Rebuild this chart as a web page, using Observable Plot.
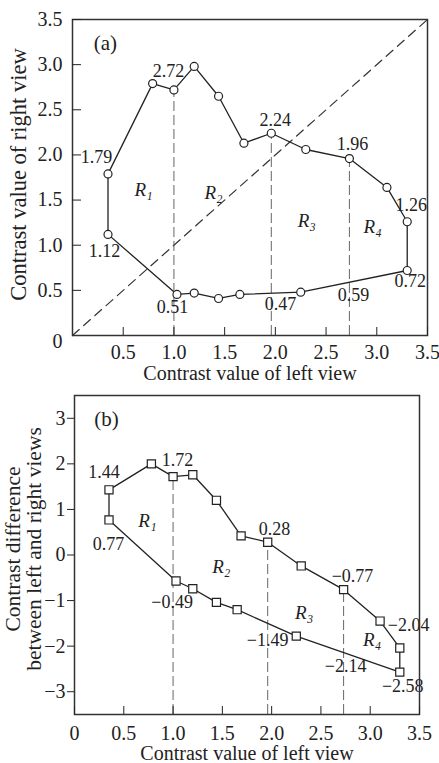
<!DOCTYPE html>
<html><head><meta charset="utf-8">
<script src="https://cdn.jsdelivr.net/npm/d3@7"></script>
<script src="https://cdn.jsdelivr.net/npm/@observablehq/plot@0.6"></script>
<style>
body{margin:0;background:#fff;}
#chart{width:439px;height:763px;overflow:hidden;position:relative;}
#chart svg{display:block;overflow:visible;}
</style></head><body><div id="chart"></div>
<script>
// ---------- Panel (a): contrast of right view vs left view ----------
const aUpperX = [0.35, 0.79, 1.00, 1.20, 1.44, 1.69, 1.96, 2.30, 2.73, 3.10, 3.30];
const aUpperY = [1.79, 2.79, 2.72, 2.98, 2.65, 2.13, 2.24, 2.06, 1.96, 1.64, 1.26];
const aLowerX = [3.30, 2.25, 1.65, 1.44, 1.20, 1.03, 0.35];
const aLowerY = [0.72, 0.48, 0.455, 0.41, 0.47, 0.455, 1.12];
const aDivX = [1.00, 1.96, 2.73];
const aDivTop = [2.72, 2.24, 1.96];
const aDiagX = [0, 3.5];
const aDiagY = [0, 3.5];
const aTag = ["(a)"];
const aTagX = [0.325];
const aTagY = [3.24];
const aLabelText = ["1.79", "2.72", "2.24", "1.96", "1.26", "1.12", "0.51", "0.47", "0.59", "0.72"];
const aLabelX = [0.237, 0.947, 2.00, 2.76, 3.34, 0.315, 0.986, 2.05, 2.77, 3.33];
const aLabelY = [1.97, 2.93, 2.38, 2.12, 1.44, 0.93, 0.31, 0.344, 0.444, 0.60];
const aRegionText = ["R₁", "R₂", "R₃", "R₄"];
const aRegionX = [0.70, 1.39, 2.31, 2.96];
const aRegionY = [1.61, 1.58, 1.27, 1.20];
const aXTicks = [0.5, 1.0, 1.5, 2.0, 2.5, 3.0, 3.5];
const aYTicks = [0.5, 1.0, 1.5, 2.0, 2.5, 3.0, 3.5];
const aXTitle = "Contrast value of left view";
const aYTitle = "Contrast value of right view";

// ---------- Panel (b): contrast difference vs left view ----------
const bUpperX = [0.35, 0.78, 1.00, 1.20, 1.44, 1.69, 1.96, 2.30, 2.73, 3.10, 3.30];
const bUpperY = [1.43, 2.00, 1.72, 1.76, 1.20, 0.42, 0.28, -0.24, -0.76, -1.45, -2.04];
const bLowerX = [3.30, 2.25, 1.65, 1.44, 1.20, 1.03, 0.35];
const bLowerY = [-2.57, -1.78, -1.20, -1.04, -0.74, -0.57, 0.77];
const bDivX = [1.00, 1.96, 2.73];
const bDivTop = [1.72, 0.28, -0.77];
const bTag = ["(b)"];
const bTagX = [0.325];
const bTagY = [2.97];
const bLabelText = ["1.44", "1.72", "0.28", "0.77", "−0.77", "−0.49", "−2.04", "−1.49", "−2.14", "−2.58"];
const bLabelX = [0.30, 1.045, 2.03, 0.345, 2.82, 0.99, 3.39, 1.96, 2.75, 3.33];
const bLabelY = [1.81, 2.07, 0.56, 0.23, -0.47, -1.04, -1.54, -1.86, -2.45, -2.88];
const bRegionText = ["R₁", "R₂", "R₃", "R₄"];
const bRegionX = [0.74, 1.49, 2.33, 3.02];
const bRegionY = [0.74, -0.27, -1.28, -1.87];
const bXTicks = [0, 0.5, 1.0, 1.5, 2.0, 2.5, 3.0, 3.5];
const bYTicks = [-3, -2, -1, 0, 1, 2, 3];
const bXTitle = "Contrast value of left view";
const bYTitle = "Contrast difference\nbetween left and right views";

const INK = "#222";
const FONT = "'Liberation Serif', 'DejaVu Serif', serif";

function loop(ux, uy, lx, ly) {
  return ux.map((x, i) => ({x, y: uy[i]})).concat(lx.map((x, i) => ({x, y: ly[i]})));
}
function rows(xs, ys, ts) { return xs.map((x, i) => ({x, y: ys[i], t: ts ? ts[i] : null})); }
const fmt1 = d => d === 0 ? "0" : d.toFixed(1);

// Panel a
const aPts = loop(aUpperX, aUpperY, aLowerX, aLowerY);
const plotA = Plot.plot({
  width: 439, height: 383,
  marginTop: 19, marginBottom: 48, marginLeft: 72, marginRight: 12,
  x: {domain: [0, 3.5]},
  y: {domain: [0, 3.5]},
  style: {fontFamily: FONT, fontSize: "20px", color: INK, background: "white", overflow: "visible"},
  marks: [
    Plot.line(rows(aDiagX, aDiagY), {x: "x", y: "y", stroke: "#333", strokeWidth: 1.2, strokeDasharray: "9,6"}),
    Plot.ruleX(rows(aDivX, aDivTop), {x: "x", y1: 0, y2: "y", stroke: "#555", strokeWidth: 0.9, strokeDasharray: "10,4"}),
    Plot.line(aPts.concat([aPts[0]]), {x: "x", y: "y", stroke: INK, strokeWidth: 1.3}),
    Plot.dot(aPts, {x: "x", y: "y", r: 4, stroke: INK, strokeWidth: 1.2, fill: "white"}),
    Plot.text(rows(aTagX, aTagY, aTag), {x: "x", y: "y", text: "t", fontSize: 21, fill: INK}),
    Plot.text(rows(aLabelX, aLabelY, aLabelText), {x: "x", y: "y", text: "t", fontSize: 18, fill: INK}),
    Plot.text(rows(aRegionX, aRegionY, aRegionText), {x: "x", y: "y", text: "t", fontSize: 19, fontStyle: "italic", fill: INK}),
    Plot.frame({stroke: "#333", strokeWidth: 1.5}),
    Plot.axisX(aXTicks, {anchor: "bottom", tickSize: -8, tickPadding: 17, tickFormat: fmt1, fontSize: 20, label: null}),
    Plot.axisY(aYTicks, {anchor: "left", tickSize: -9, tickPadding: 19, tickFormat: fmt1, fontSize: 20, label: null}),
    Plot.axisY([0], {anchor: "left", tickSize: 0, tickPadding: 10, dy: 6, tickFormat: fmt1, fontSize: 20, label: null}),
    Plot.text([aXTitle], {frameAnchor: "bottom", textAnchor: "middle", dy: 38, lineAnchor: "middle", fontSize: 20, fill: INK}),
    Plot.text([aYTitle], {frameAnchor: "left", textAnchor: "middle", dx: -54, dy: -3, rotate: -90, lineAnchor: "middle", fontSize: 22.5, fill: INK})
  ]
});

// Panel b
const bPts = loop(bUpperX, bUpperY, bLowerX, bLowerY);
const plotB = Plot.plot({
  width: 439, height: 380,
  marginTop: 12, marginBottom: 49, marginLeft: 74, marginRight: 20,
  x: {domain: [0, 3.5]},
  y: {domain: [-3.5, 3.5]},
  style: {fontFamily: FONT, fontSize: "20px", color: INK, background: "white", overflow: "visible"},
  marks: [
    Plot.ruleX(rows(bDivX, bDivTop), {x: "x", y1: -3.5, y2: "y", stroke: "#555", strokeWidth: 0.9, strokeDasharray: "10,4"}),
    Plot.line(bPts.concat([bPts[0]]), {x: "x", y: "y", stroke: INK, strokeWidth: 1.3}),
    Plot.dot(bPts, {x: "x", y: "y", r: 4.6, symbol: "square", stroke: INK, strokeWidth: 1.2, fill: "white"}),
    Plot.text(rows(bTagX, bTagY, bTag), {x: "x", y: "y", text: "t", fontSize: 21, fill: INK}),
    Plot.text(rows(bLabelX, bLabelY, bLabelText), {x: "x", y: "y", text: "t", fontSize: 18, fill: INK}),
    Plot.text(rows(bRegionX, bRegionY, bRegionText), {x: "x", y: "y", text: "t", fontSize: 19, fontStyle: "italic", fill: INK}),
    Plot.frame({stroke: "#333", strokeWidth: 1.5}),
    Plot.axisX(bXTicks, {anchor: "bottom", tickSize: -8, tickPadding: 19, tickFormat: fmt1, fontSize: 20, label: null}),
    Plot.axisY(bYTicks, {anchor: "left", tickSize: 7, tickPadding: 2, tickFormat: d3.format("d"), fontSize: 20, label: null}),
    Plot.text([bXTitle], {frameAnchor: "bottom", textAnchor: "middle", dy: 39, lineAnchor: "middle", fontSize: 20, fill: INK}),
    Plot.text([bYTitle], {frameAnchor: "left", textAnchor: "middle", dx: -51, dy: -6, rotate: -90, lineAnchor: "middle", lineHeight: 1.02, fontSize: 21.5, fill: INK})
  ]
});

const chart = document.getElementById("chart");
chart.appendChild(plotA);
chart.appendChild(plotB);
</script></body></html>
